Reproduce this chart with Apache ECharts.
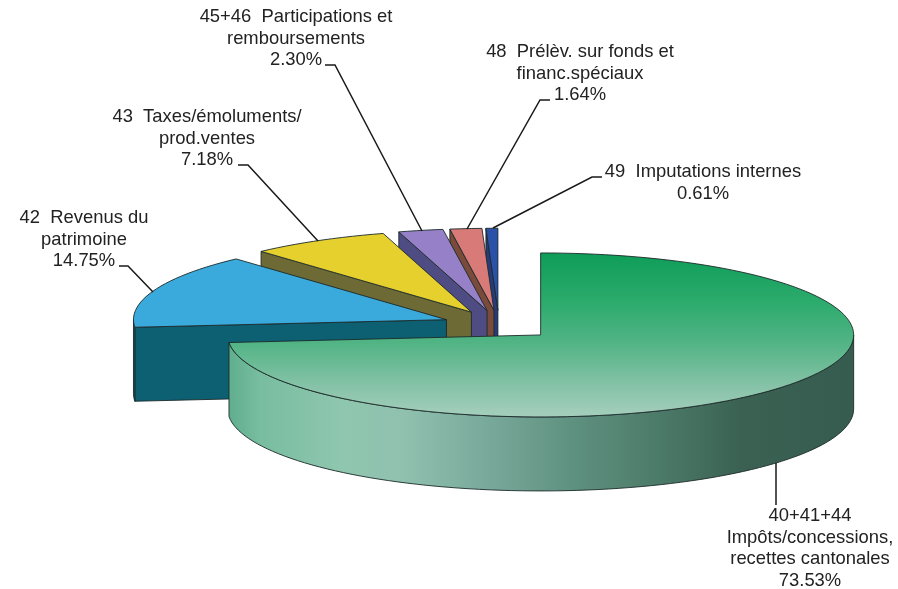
<!DOCTYPE html>
<html>
<head>
<meta charset="utf-8">
<title>Revenus</title>
<script src="https://cdn.jsdelivr.net/npm/echarts@6/dist/echarts.min.js"></script>
<style>
html,body{margin:0;padding:0;background:#fff}
#main{width:898px;height:589px}
</style>
</head>
<body>
<div id="main"></div>
<script>
// order = clockwise from 12 o'clock
var categories = [
	"40+41+44\nImpôts/concessions,\nrecettes cantonales",
	"42  Revenus du\npatrimoine",
	"43  Taxes/émoluments/\nprod.ventes",
	"45+46  Participations et\nremboursements",
	"48  Prélèv. sur fonds et\nfinanc.spéciaux",
	"49  Imputations internes"
];
var values = [73.53, 14.75, 7.18, 2.30, 1.64, 0.61];
var percentLabels = ["73.53%", "14.75%", "7.18%", "2.30%", "1.64%", "0.61%"];

var topColors = ["#000", "#3aa9dc", "#e6d02e", "#9680c8", "#d87a78", "#2b50a8"];
var sideColors = ["#000", "#0d5f72", "#6d6a36", "#4f4c84", "#7a4a3a", "#283a78"];

// label centres and leader lines, px
var labelPos = [[810, 516], [84, 218], [207, 117], [296, 17], [580, 52], [703, 172]];
var leaders = [
	[[776, 463], [776, 505]],
	[[119, 266], [128, 266], [153, 292]],
	[[238, 165], [248, 165], [318, 241]],
	[[325, 65], [335, 65], [422, 231]],
	[[550, 100], [540, 100], [467, 229]],
	[[602, 177], [592, 177], [493, 228]]
];

var cx = 499, cy = 325, rx = 313, ry = 82, depth = 74, explode = 0.18;
var total = 0;
values.forEach(function(v){ total += v; });

var rows = [];
var acc = 0;
values.forEach(function(v, i){
	rows.push([i, acc / total * 360, (acc + v) / total * 360]);
	acc += v;
});
var drawRows = rows.slice().reverse();//back to front

function rad(d){ return d * Math.PI / 180; }

function arcPoints(ox, oy, from, to, dy){
	var pts = [];
	var n = Math.max(2, Math.ceil((to - from) / 2));
	for(var k = 0; k <= n; k++){
		var t = rad(from + (to - from) * k / n);
		pts.push([ox + rx * Math.sin(t), oy - ry * Math.cos(t) + dy]);
	}
	return pts;
}

var outline = {stroke: "#1c2a2a", lineWidth: 0.9, lineJoin: "round"};

function face(points, fill){
	return {type: "polygon", shape: {points: points}, style: Object.assign({fill: fill}, outline)};
}

function renderSlice(params, api){
	var i = api.value(0), a0 = api.value(1), a1 = api.value(2);
	var mid = rad((a0 + a1) / 2);
	var ox = cx + explode * rx * Math.sin(mid);
	var oy = cy - explode * ry * Math.cos(mid);
	var topFill = topColors[i], sideFill = sideColors[i], arcFill = sideColors[i];
	if(i == 0){
		topFill = new echarts.graphic.LinearGradient(0, 0, 0, 1, [
			{offset: 0, color: "#0e9c58"},
			{offset: 0.3, color: "#2cab6d"},
			{offset: 0.55, color: "#52b485"},
			{offset: 0.8, color: "#84c2a6"},
			{offset: 1, color: "#a6cfbd"}
		]);
		arcFill = new echarts.graphic.LinearGradient(0, 0, 1, 0, [
			{offset: 0, color: "#5fae8e"},
			{offset: 0.05, color: "#78bd9f"},
			{offset: 0.18, color: "#8fc6af"},
			{offset: 0.28, color: "#90c1af"},
			{offset: 0.4, color: "#7bab9c"},
			{offset: 0.55, color: "#5f9180"},
			{offset: 0.69, color: "#4c7a68"},
			{offset: 0.82, color: "#3a6152"},
			{offset: 1, color: "#365c50"}
		]);
	}
	var children = [];
	// radial wall on the start edge faces the viewer only in the left half
	if(Math.sin(rad(a0)) < 0){
		var e = arcPoints(ox, oy, a0, a0, 0)[0];
		children.push(face([[ox, oy], e, [e[0], e[1] + depth], [ox, oy + depth]], sideFill));
	}
	// outer wall, front part only
	var f0 = Math.max(a0, 90), f1 = Math.min(a1, 270);
	if(f1 > f0){
		var upper = arcPoints(ox, oy, f0, f1, 0);
		var lower = arcPoints(ox, oy, f0, f1, depth).reverse();
		children.push(face(upper.concat(lower), arcFill));
	}
	children.push(face([[ox, oy]].concat(arcPoints(ox, oy, a0, a1, 0)), topFill));
	return {type: "group", children: children};
}

var graphics = [];
leaders.forEach(function(pts){
	graphics.push({
		type: "polyline", z: 10, silent: true,
		shape: {points: pts},
		style: {stroke: "#1a1a1a", lineWidth: 1.5, fill: null}
	});
});
categories.forEach(function(name, i){
	graphics.push({
		type: "text", z: 10, silent: true,
		x: labelPos[i][0],
		y: labelPos[i][1] - 10.8,// labelPos is the middle of the first line
		style: {
			text: name + "\n" + percentLabels[i],
			fill: "#222",
			font: '18.4px "Liberation Sans"',
			lineHeight: 21.6,
			align: "center",
			verticalAlign: "top"
		}
	});
});

var myChart = echarts.init(document.getElementById("main"), null, {renderer: "canvas"});
myChart.setOption({
	backgroundColor: "#ffffff",
	animation: false,
	series: [{
		type: "custom",
		coordinateSystem: "none",
		silent: true,
		renderItem: renderSlice,
		data: drawRows
	}],
	graphic: graphics
});
</script>
</body>
</html>
